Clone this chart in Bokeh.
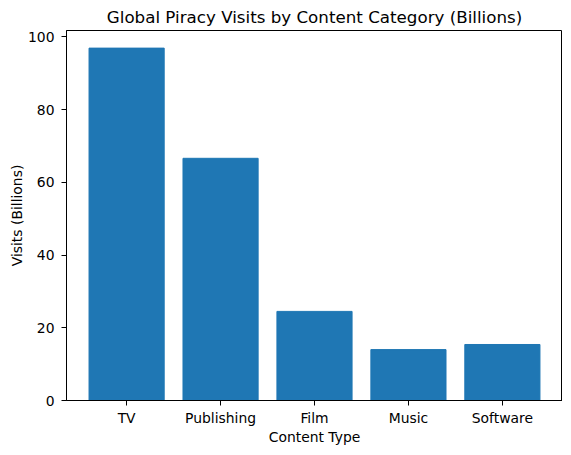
from bokeh.plotting import figure
from bokeh.models import ColumnDataSource, FactorRange, Range1d, FixedTicker
from bokeh.embed import file_html
from bokeh.resources import INLINE

categories = ["TV", "Publishing", "Film", "Music", "Software"]
visits = [96.9, 66.6, 24.5, 14.0, 15.4]
y_ticks = [0, 20, 40, 60, 80, 100]

source = ColumnDataSource(data=dict(category=categories, visits=visits))

p = figure(x_range=FactorRange(factors=categories, range_padding=0.14, range_padding_units="absolute"),
           y_range=Range1d(0, max(visits) * 1.05),
           frame_width=496, frame_height=370,
           title="Global Piracy Visits by Content Category (Billions)",
           toolbar_location=None, tools="", output_backend="svg",
           min_border_left=66, min_border_right=0, min_border_top=24, min_border_bottom=40)

p.vbar(x='category', top='visits', width=0.8, source=source, color="#1f77b4")

p.title.align = "center"
p.title.text_font = "DejaVu Sans"
p.title.text_font_size = "16.7px"
p.title.text_font_style = "normal"
p.title.text_color = "black"
p.title.standoff = 8

p.outline_line_color = "black"
p.outline_line_alpha = 1
p.grid.grid_line_color = None

p.yaxis.ticker = FixedTicker(ticks=y_ticks)
p.yaxis.minor_tick_line_color = None
p.xaxis.axis_label = "Content Type"
p.yaxis.axis_label = "Visits (Billions)"
for ax in (p.xaxis, p.yaxis):
    ax.axis_label_text_font = "DejaVu Sans"
    ax.axis_label_text_font_size = "13.9px"
    ax.axis_label_text_font_style = "normal"
    ax.axis_label_text_color = "black"
    ax.axis_label_standoff = 0
    ax.major_label_text_font = "DejaVu Sans"
    ax.major_label_text_font_size = "13.9px"
    ax.major_label_text_color = "black"
    ax.major_tick_out = 5
    ax.major_tick_in = 0
    ax.major_tick_line_color = "black"
    ax.axis_line_color = "black"
    ax.major_label_standoff = 4
p.yaxis.major_label_standoff = 7

open("out.html", "w").write(file_html(p, INLINE))
